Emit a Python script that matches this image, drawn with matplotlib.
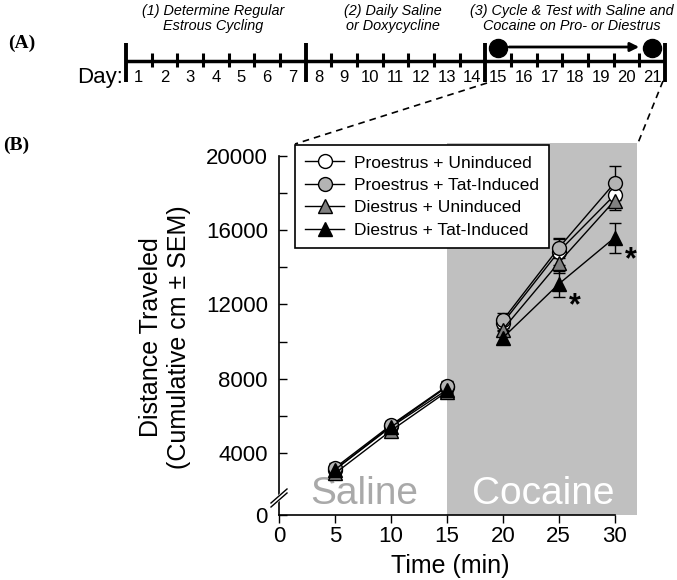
import numpy as np
import matplotlib
matplotlib.use('Agg')
import matplotlib.pyplot as plt

plt.rcParams['font.family'] = ['Liberation Sans', 'DejaVu Sans']

# ---- panel A: timeline ----
days = list(range(1, 22))
phase_bounds = [0, 7, 14, 21]
phase_text = ["(1) Determine Regular\nEstrous Cycling",
              "(2) Daily Saline\nor Doxycycline",
              "(3) Cycle & Test with Saline and\nCocaine on Pro- or Diestrus"]
test_days = [15, 21]

# ---- panel B: distance traveled ----
time_min = np.array([5, 10, 15, 20, 25, 30])
labels = ["Proestrus + Uninduced", "Proestrus + Tat-Induced",
          "Diestrus + Uninduced", "Diestrus + Tat-Induced"]
pro_unind = np.array([3100, 5450, 7550, 11000, 14850, 17900])
pro_tat = np.array([3200, 5500, 7600, 11150, 15050, 18550])
di_unind = np.array([2900, 5200, 7300, 10650, 14250, 17600])
di_tat = np.array([3100, 5400, 7400, 10200, 13100, 15600])
sem_pro_unind = np.array([250, 250, 300, 400, 700, 600])
sem_pro_tat = np.array([250, 250, 300, 400, 550, 900])
sem_di_unind = np.array([200, 200, 250, 350, 550, 500])
sem_di_tat = np.array([250, 250, 300, 350, 700, 800])
sig_times = [25, 30]   # Diestrus + Tat-Induced differs

fig = plt.figure(figsize=(6.77, 5.8), dpi=100)
ax = fig.add_axes([279/677, 65/580, 358/677, 372/580])

Y0 = 660   # where the broken axis shows "0"
ax.set_xlim(0, 32)
ax.set_ylim(Y0, 20700)
ax.axvspan(15, 32, color='#c0c0c0', lw=0, zorder=0)

ax.text(7.64, 1250, 'Saline', fontsize=28, color='#a9a9a9', ha='center', va='baseline', zorder=1)
ax.text(23.64, 1250, 'Cocaine', fontsize=28, color='white', ha='center', va='baseline', zorder=1)

series = [
    (pro_unind, sem_pro_unind, 'o', 'white'),
    (pro_tat, sem_pro_tat, 'o', '#b4b4b4'),
    (di_unind, sem_di_unind, '^', '#808080'),
    (di_tat, sem_di_tat, '^', 'black'),
]
handles = []
for vals, errs, mk, fc in series:
    for seg in (slice(0, 3), slice(3, 6)):
        ax.errorbar(time_min[seg], vals[seg], yerr=errs[seg], fmt='none', ecolor='k',
                    elinewidth=1, capsize=4.5, capthick=1, zorder=2)
        ln, = ax.plot(time_min[seg], vals[seg], color='k', lw=1, marker=mk, ms=10,
                      mfc=fc, mec='k', mew=1, zorder=3)
    handles.append(ln)

for t in sig_times:
    i = list(time_min).index(t)
    ax.annotate('*', xy=(t, di_tat[i]), xytext=(11.5, -22), textcoords='offset points',
                fontsize=22, fontweight='bold', ha='center', va='baseline')

leg = ax.legend(handles, labels, loc='upper left', bbox_to_anchor=(16/358, 370/372),
                borderaxespad=0, fontsize=12.5, fancybox=False, edgecolor='k',
                framealpha=1, handlelength=2.2, handletextpad=0.6,
                labelspacing=0.42, borderpad=0.6)
leg.get_frame().set_linewidth(1.2)

ax.set_xticks(range(0, 31, 5))
ax.set_yticks([Y0, 4000, 8000, 12000, 16000, 20000])
ax.set_yticklabels(['0', '4000', '8000', '12000', '16000', '20000'])
ax.set_yticks([6000, 10000, 14000, 18000], minor=True)
ax.tick_params(axis='x', direction='out', length=6, width=1, labelsize=16, pad=2)
ax.tick_params(axis='y', which='both', direction='in', length=6, width=1, labelsize=16, pad=8)
for s in ('top', 'right'):
    ax.spines[s].set_visible(False)
ax.spines['left'].set_bounds(Y0, 20000)
ax.spines['bottom'].set_bounds(0, 30)
ax.spines['left'].set_linewidth(1.2)
ax.spines['bottom'].set_linewidth(1.2)

ax.set_xlabel('Time (min)', fontsize=18, va='top')
ax.xaxis.set_label_coords(0.478, -0.105)
ax.text(-0.318, 0.478, 'Distance Traveled\n(Cumulative cm ± SEM)', transform=ax.transAxes,
        rotation=90, ha='center', va='center', fontsize=18, multialignment='center')

# ---- overlay in figure pixels: timeline, panel letters, zoom lines, axis break ----
ov = fig.add_axes([0, 0, 1, 1], zorder=5)
ov.set_xlim(0, 677)
ov.set_ylim(580, 0)
ov.axis('off')

T_LEFT = 126
DAY_W = 539 / 21
def dx(d):
    return T_LEFT + d * DAY_W

ov.plot([dx(0), dx(21)], [61, 61], color='k', lw=2.5, solid_capstyle='butt')
for b in range(22):
    if b in phase_bounds:
        ov.plot([dx(b)] * 2, [43, 82], color='k', lw=2.8, solid_capstyle='butt')
    else:
        ov.plot([dx(b)] * 2, [53, 67], color='k', lw=2.2, solid_capstyle='butt')
for d in days:
    ov.text(dx(d - 0.5), 78, str(d), ha='center', va='center', fontsize=12)
ov.text(123, 77, 'Day:', ha='right', va='center', fontsize=16)

for k, txt in enumerate(phase_text):
    mid = (phase_bounds[k] + phase_bounds[k + 1]) / 2
    ov.text(dx(mid) - 3, 18.5, txt, ha='center', va='center', style='italic',
            fontsize=10.4, linespacing=1.15)

for d in test_days:
    ov.plot(dx(d - 0.5), 48, 'o', ms=13, color='k')
ov.annotate('', xy=(dx(test_days[1] - 0.5) - 13, 47), xytext=(dx(test_days[0] - 0.5) + 11, 47),
            arrowprops=dict(arrowstyle='-|>', lw=2, color='k', mutation_scale=13,
                            shrinkA=0, shrinkB=0))

ov.plot([487, 295], [83, 144], color='k', lw=1.2, ls=(0, (4, 3)))
ov.plot([663, 638], [81, 143], color='k', lw=1.2, ls=(0, (4, 3)))

ov.plot([271, 287], [505, 491], color='white', lw=4, solid_capstyle='butt')
ov.plot([271, 287], [503, 489], color='k', lw=1)
ov.plot([271, 287], [507, 493], color='k', lw=1)

fig.text(8/677, 1 - 43/580, '(A)', fontsize=14, fontweight='bold',
         family='Liberation Serif', va='center', ha='left')
fig.text(3/677, 1 - 145/580, '(B)', fontsize=14, fontweight='bold',
         family='Liberation Serif', va='center', ha='left')

fig.savefig('out.png', dpi=100)
